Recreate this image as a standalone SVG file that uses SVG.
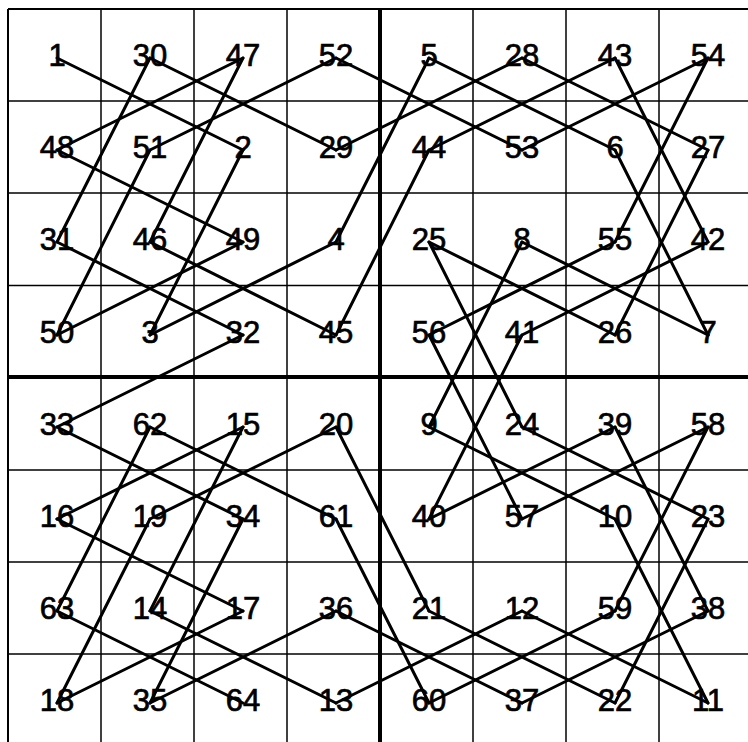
<svg xmlns="http://www.w3.org/2000/svg" width="748" height="742" viewBox="0 0 748 742">
<style>
.g{stroke:#000;stroke-width:1.5;fill:none}
.b{stroke:#000;stroke-width:4;fill:none}
.n{font-family:"Liberation Sans",Arial,sans-serif;font-size:31px;fill:#000;stroke:#000;stroke-width:0.7;text-anchor:middle}
.c line{stroke:#000;stroke-width:3;stroke-linecap:round}
</style>
<rect width="748" height="742" fill="#fff"/>
<g id="grid">
<line class="g" x1="8" y1="9" x2="748" y2="9" style="stroke-width:2"/>
<line class="g" x1="8" y1="101" x2="748" y2="101"/>
<line class="g" x1="8" y1="193" x2="748" y2="193"/>
<line class="g" x1="8" y1="285.5" x2="748" y2="285.5"/>
<line class="b" x1="8" y1="377" x2="748" y2="377"/>
<line class="g" x1="8" y1="470" x2="748" y2="470"/>
<line class="g" x1="8" y1="562" x2="748" y2="562"/>
<line class="g" x1="8" y1="654" x2="748" y2="654"/>
<line class="g" x1="8" y1="9" x2="8" y2="742" style="stroke-width:2"/>
<line class="g" x1="101" y1="9" x2="101" y2="742"/>
<line class="g" x1="194" y1="9" x2="194" y2="742"/>
<line class="g" x1="287" y1="9" x2="287" y2="742"/>
<line class="b" x1="380" y1="9" x2="380" y2="742"/>
<line class="g" x1="473" y1="9" x2="473" y2="742"/>
<line class="g" x1="566" y1="9" x2="566" y2="742"/>
<line class="g" x1="659" y1="9" x2="659" y2="742"/>
</g>
<g id="nodes">
<g id="n1"><text class="n" x="57" y="66">1</text></g>
<g id="n30"><text class="n" x="150" y="66">30</text></g>
<g id="n47"><text class="n" x="243" y="66">47</text></g>
<g id="n52"><text class="n" x="336" y="66">52</text></g>
<g id="n5"><text class="n" x="429" y="66">5</text></g>
<g id="n28"><text class="n" x="522" y="66">28</text></g>
<g id="n43"><text class="n" x="615" y="66">43</text></g>
<g id="n54"><text class="n" x="708" y="66">54</text></g>
<g id="n48"><text class="n" x="57" y="158">48</text></g>
<g id="n51"><text class="n" x="150" y="158">51</text></g>
<g id="n2"><text class="n" x="243" y="158">2</text></g>
<g id="n29"><text class="n" x="336" y="158">29</text></g>
<g id="n44"><text class="n" x="429" y="158">44</text></g>
<g id="n53"><text class="n" x="522" y="158">53</text></g>
<g id="n6"><text class="n" x="615" y="158">6</text></g>
<g id="n27"><text class="n" x="708" y="158">27</text></g>
<g id="n31"><text class="n" x="57" y="250">31</text></g>
<g id="n46"><text class="n" x="150" y="250">46</text></g>
<g id="n49"><text class="n" x="243" y="250">49</text></g>
<g id="n4"><text class="n" x="336" y="250">4</text></g>
<g id="n25"><text class="n" x="429" y="250">25</text></g>
<g id="n8"><text class="n" x="522" y="250">8</text></g>
<g id="n55"><text class="n" x="615" y="250">55</text></g>
<g id="n42"><text class="n" x="708" y="250">42</text></g>
<g id="n50"><text class="n" x="57" y="342.5">50</text></g>
<g id="n3"><text class="n" x="150" y="342.5">3</text></g>
<g id="n32"><text class="n" x="243" y="342.5">32</text></g>
<g id="n45"><text class="n" x="336" y="342.5">45</text></g>
<g id="n56"><text class="n" x="429" y="342.5">56</text></g>
<g id="n41"><text class="n" x="522" y="342.5">41</text></g>
<g id="n26"><text class="n" x="615" y="342.5">26</text></g>
<g id="n7"><text class="n" x="708" y="342.5">7</text></g>
<g id="n33"><text class="n" x="57" y="435">33</text></g>
<g id="n62"><text class="n" x="150" y="435">62</text></g>
<g id="n15"><text class="n" x="243" y="435">15</text></g>
<g id="n20"><text class="n" x="336" y="435">20</text></g>
<g id="n9"><text class="n" x="429" y="435">9</text></g>
<g id="n24"><text class="n" x="522" y="435">24</text></g>
<g id="n39"><text class="n" x="615" y="435">39</text></g>
<g id="n58"><text class="n" x="708" y="435">58</text></g>
<g id="n16"><text class="n" x="57" y="527">16</text></g>
<g id="n19"><text class="n" x="150" y="527">19</text></g>
<g id="n34"><text class="n" x="243" y="527">34</text></g>
<g id="n61"><text class="n" x="336" y="527">61</text></g>
<g id="n40"><text class="n" x="429" y="527">40</text></g>
<g id="n57"><text class="n" x="522" y="527">57</text></g>
<g id="n10"><text class="n" x="615" y="527">10</text></g>
<g id="n23"><text class="n" x="708" y="527">23</text></g>
<g id="n63"><text class="n" x="57" y="619">63</text></g>
<g id="n14"><text class="n" x="150" y="619">14</text></g>
<g id="n17"><text class="n" x="243" y="619">17</text></g>
<g id="n36"><text class="n" x="336" y="619">36</text></g>
<g id="n21"><text class="n" x="429" y="619">21</text></g>
<g id="n12"><text class="n" x="522" y="619">12</text></g>
<g id="n59"><text class="n" x="615" y="619">59</text></g>
<g id="n38"><text class="n" x="708" y="619">38</text></g>
<g id="n18"><text class="n" x="57" y="711">18</text></g>
<g id="n35"><text class="n" x="150" y="711">35</text></g>
<g id="n64"><text class="n" x="243" y="711">64</text></g>
<g id="n13"><text class="n" x="336" y="711">13</text></g>
<g id="n60"><text class="n" x="429" y="711">60</text></g>
<g id="n37"><text class="n" x="522" y="711">37</text></g>
<g id="n22"><text class="n" x="615" y="711">22</text></g>
<g id="n11"><text class="n" x="708" y="711">11</text></g>
</g>
<g id="connectors" class="c">
<line x1="57" y1="58" x2="243" y2="150"/>
<line x1="243" y1="150" x2="150" y2="335"/>
<line x1="150" y1="335" x2="336" y2="242"/>
<line x1="336" y1="242" x2="429" y2="58"/>
<line x1="429" y1="58" x2="615" y2="150"/>
<line x1="615" y1="150" x2="708" y2="335"/>
<line x1="708" y1="335" x2="522" y2="242"/>
<line x1="522" y1="242" x2="429" y2="427"/>
<line x1="429" y1="427" x2="615" y2="519"/>
<line x1="615" y1="519" x2="708" y2="703"/>
<line x1="708" y1="703" x2="522" y2="611"/>
<line x1="522" y1="611" x2="336" y2="703"/>
<line x1="336" y1="703" x2="150" y2="611"/>
<line x1="150" y1="611" x2="243" y2="427"/>
<line x1="243" y1="427" x2="57" y2="519"/>
<line x1="57" y1="519" x2="243" y2="611"/>
<line x1="243" y1="611" x2="57" y2="703"/>
<line x1="57" y1="703" x2="150" y2="519"/>
<line x1="150" y1="519" x2="336" y2="427"/>
<line x1="336" y1="427" x2="429" y2="611"/>
<line x1="429" y1="611" x2="615" y2="703"/>
<line x1="615" y1="703" x2="708" y2="519"/>
<line x1="708" y1="519" x2="522" y2="427"/>
<line x1="522" y1="427" x2="429" y2="242"/>
<line x1="429" y1="242" x2="615" y2="335"/>
<line x1="615" y1="335" x2="708" y2="150"/>
<line x1="708" y1="150" x2="522" y2="58"/>
<line x1="522" y1="58" x2="336" y2="150"/>
<line x1="336" y1="150" x2="150" y2="58"/>
<line x1="150" y1="58" x2="57" y2="242"/>
<line x1="57" y1="242" x2="243" y2="335"/>
<line x1="243" y1="335" x2="57" y2="427"/>
<line x1="57" y1="427" x2="243" y2="519"/>
<line x1="243" y1="519" x2="150" y2="703"/>
<line x1="150" y1="703" x2="336" y2="611"/>
<line x1="336" y1="611" x2="522" y2="703"/>
<line x1="522" y1="703" x2="708" y2="611"/>
<line x1="708" y1="611" x2="615" y2="427"/>
<line x1="615" y1="427" x2="429" y2="519"/>
<line x1="429" y1="519" x2="522" y2="335"/>
<line x1="522" y1="335" x2="708" y2="242"/>
<line x1="708" y1="242" x2="615" y2="58"/>
<line x1="615" y1="58" x2="429" y2="150"/>
<line x1="429" y1="150" x2="336" y2="335"/>
<line x1="336" y1="335" x2="150" y2="242"/>
<line x1="150" y1="242" x2="243" y2="58"/>
<line x1="243" y1="58" x2="57" y2="150"/>
<line x1="57" y1="150" x2="243" y2="242"/>
<line x1="243" y1="242" x2="57" y2="335"/>
<line x1="57" y1="335" x2="150" y2="150"/>
<line x1="150" y1="150" x2="336" y2="58"/>
<line x1="336" y1="58" x2="522" y2="150"/>
<line x1="522" y1="150" x2="708" y2="58"/>
<line x1="708" y1="58" x2="615" y2="242"/>
<line x1="615" y1="242" x2="429" y2="335"/>
<line x1="429" y1="335" x2="522" y2="519"/>
<line x1="522" y1="519" x2="708" y2="427"/>
<line x1="708" y1="427" x2="615" y2="611"/>
<line x1="615" y1="611" x2="429" y2="703"/>
<line x1="429" y1="703" x2="336" y2="519"/>
<line x1="336" y1="519" x2="150" y2="427"/>
<line x1="150" y1="427" x2="57" y2="611"/>
<line x1="57" y1="611" x2="243" y2="703"/>
</g>
</svg>
